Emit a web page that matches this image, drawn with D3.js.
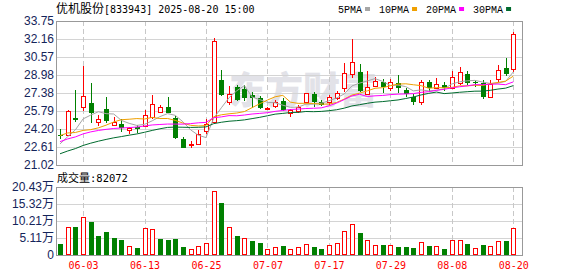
<!DOCTYPE html>
<html><head><meta charset="utf-8">
<script src="https://cdn.jsdelivr.net/npm/d3@7"></script>
<style>html,body{margin:0;padding:0;background:#fff;}svg{display:block;}</style>
</head><body>
<svg id="c" width="578" height="276"></svg>
<script>
// ---------------- data ----------------
const stockName = "优机股份";
const stockCode = "833943";
const stamp = "2025-08-20 15:00";
const dates = ["05-28","05-29","05-30","06-03","06-04","06-05","06-06","06-09","06-10","06-11","06-12","06-13",
"06-16","06-17","06-18","06-19","06-20","06-23","06-24","06-25","06-26","06-27","06-30","07-01","07-02","07-03","07-04","07-07",
"07-08","07-09","07-10","07-11","07-14","07-15","07-16","07-17","07-18","07-21","07-22","07-23","07-24","07-25","07-28","07-29",
"07-30","07-31","08-01","08-04","08-05","08-06","08-07","08-08","08-11","08-12","08-13","08-14","08-15","08-18","08-19","08-20"];
const opens = [23.66,23.65,25.16,26.13,26.53,24.86,25.98,24.59,24.64,24.15,24.42,24.48,25.24,25.71,26.18,25.16,23.33,22.82,22.86,24.00,
24.80,28.54,26.62,27.90,27.75,27.20,26.92,25.95,26.24,26.71,25.60,25.80,26.62,27.27,26.62,26.55,26.92,27.80,29.04,29.22,
27.27,28.04,28.40,27.80,28.30,27.66,27.07,26.57,28.33,27.86,28.10,27.80,28.25,29.04,28.40,28.30,27.07,28.60,29.57,29.48];
const highs = [24.18,25.85,27.66,29.80,28.30,25.45,27.01,25.24,25.05,24.40,24.54,25.89,27.21,26.33,27.01,25.36,23.48,23.18,24.12,25.05,
32.25,29.42,28.01,28.10,28.10,27.50,27.10,26.12,26.80,26.95,25.95,26.35,27.40,27.48,26.80,27.20,27.60,30.00,32.13,29.95,
29.36,28.80,28.60,28.60,28.98,27.80,27.30,28.50,28.54,28.74,28.40,29.36,29.66,29.30,28.54,28.54,28.54,29.86,30.51,32.75];
const lows = [23.30,23.60,24.86,25.83,24.77,24.48,24.71,24.48,23.90,23.80,23.88,24.36,25.07,25.60,25.60,23.33,22.50,22.50,22.80,23.75,
24.72,27.13,26.33,26.65,26.70,26.10,25.95,25.92,26.10,25.80,25.30,25.60,26.60,26.13,26.20,26.30,26.80,27.50,28.69,27.50,
27.20,27.90,27.35,27.60,27.42,27.00,26.30,26.30,27.50,27.74,27.60,27.74,28.10,28.10,27.90,26.86,27.07,28.39,28.92,29.27];
const closes = [23.62,25.80,25.01,27.13,25.60,25.10,24.95,24.86,24.28,24.32,24.19,25.42,26.42,26.13,25.65,23.44,22.56,22.86,23.74,24.63,
31.95,27.21,27.30,26.80,26.95,26.90,26.04,26.10,26.62,25.89,25.92,26.18,27.36,26.62,26.33,27.01,27.42,29.13,30.16,27.59,
27.95,28.45,27.89,28.33,27.80,27.27,26.57,28.33,27.86,28.16,27.80,28.78,29.27,28.30,28.35,27.07,28.16,29.42,29.04,32.57];
// volume in 万 (10k lots)
const volumes = [3.3,8.4,8.5,11.3,9.9,5.7,6.9,5.2,4.5,2.7,2.2,8.1,7.7,4.8,4.5,4.8,2.4,1.8,2.7,3.6,
19.1,15.5,8.4,5.7,5.0,4.3,3.7,1.7,2.4,2.8,1.7,2.4,3.3,2.4,1.8,3.0,3.6,7.2,9.2,6.6,
4.4,2.9,3.0,3.0,2.5,2.4,2.1,3.8,2.7,2.7,1.8,4.4,4.4,3.2,2.0,3.0,2.7,4.2,4.2,8.2072];
// closes of the 29 sessions before 05-28 (estimated from where the MA lines start)
const priorCloses = [18.4,18.7,18.8,19.5,19.8,20.3,20.6,20.9,20.7,20.9,
21.0,21.5,21.8,22.0,22.6,23.0,23.3,23.4,23.6,23.3,
23.5,24.6,25.3,24.9,23.5,22.6,22.0,22.3,23.9];
const priceTicks = [33.75,32.16,30.57,28.98,27.38,25.79,24.20,22.61,21.02];
const volTicks = [0,5.11,10.21,15.32,20.43];
const dateTicks = ["06-03","06-13","06-25","07-07","07-17","07-29","08-08","08-20"];
const maPeriods = [5,10,20,30];
const maNames = ["5PMA","10PMA","20PMA","30PMA"];

// ---------------- layout ----------------
const L = 56, R = 522, pT = 21, pB = 165, vT = 187, vB = 255;
const RED = "#ff0000", GREEN = "#008000";
const maColors = ["#a6a6a6", "#f0a000", "#ff00ff", "#006b2e"];
const labelColor = "#14245a";

const svg = d3.select("#c");
const n = closes.length;
const x = d3.scaleLinear().domain([0, n - 1]).range([60, 513.3]);
const yP = d3.scaleLinear().domain([d3.min(priceTicks), d3.max(priceTicks)]).range([pB, pT]);
const yV = d3.scaleLinear().domain([0, d3.max(volTicks)]).range([vB, vT]);
const px = v => Math.round(v) + 0.5;

// watermark
svg.append("text").attr("x", 229).attr("y", 104)
  .attr("font-family", "Noto Sans CJK SC").attr("font-weight", 900).attr("font-size", 37)
  .attr("fill", "#e2e2e8").text("东方财富");

// horizontal grid
function hgrid(ticks, scale) {
  svg.append("g").selectAll("line").data(ticks).join("line")
    .attr("x1", L).attr("x2", R)
    .attr("y1", d => px(scale(d))).attr("y2", d => px(scale(d)))
    .attr("stroke", "#d4d4d4").attr("stroke-width", 1);
}
hgrid(priceTicks, yP);
hgrid(volTicks, yV);

// vertical dashed grid
const tickIdx = dateTicks.map(d => dates.indexOf(d));
[[pT, pB], [vT, vB]].forEach(([a, b]) => {
  svg.append("g").selectAll("line").data(tickIdx).join("line")
    .attr("x1", d => px(x(d))).attr("x2", d => px(x(d)))
    .attr("y1", a).attr("y2", b)
    .attr("stroke", "#c8c8c8").attr("stroke-dasharray", "5,3");
});

// candles
const cg = svg.append("g");
for (let i = 0; i < n; i++) {
  const cx = Math.round(x(i));
  const up = closes[i] >= opens[i];
  const col = up ? RED : GREEN;
  const top = Math.round(yP(Math.max(opens[i], closes[i])));
  const bot = Math.round(yP(Math.min(opens[i], closes[i])));
  const yH = Math.round(yP(highs[i])), yL = Math.round(yP(lows[i]));
  if (up) {
    if (yH < top) cg.append("line").attr("x1", cx + 0.5).attr("x2", cx + 0.5).attr("y1", yH).attr("y2", top).attr("stroke", col);
    if (yL > bot) cg.append("line").attr("x1", cx + 0.5).attr("x2", cx + 0.5).attr("y1", bot).attr("y2", yL).attr("stroke", col);
    if (bot - top >= 1) {
      cg.append("rect").attr("x", cx - 2 + 0.5).attr("y", top + 0.5).attr("width", 4).attr("height", bot - top)
        .attr("fill", "#fff").attr("stroke", col);
    } else {
      cg.append("line").attr("x1", cx - 2).attr("x2", cx + 3).attr("y1", top + 0.5).attr("y2", top + 0.5).attr("stroke", col);
    }
  } else {
    cg.append("line").attr("x1", cx + 0.5).attr("x2", cx + 0.5).attr("y1", yH).attr("y2", yL).attr("stroke", col);
    cg.append("rect").attr("x", cx - 2).attr("y", top).attr("width", 5).attr("height", Math.max(1, bot - top))
      .attr("fill", col);
  }
}

// moving averages
const allCloses = priorCloses.concat(closes);
const off = priorCloses.length;
const maSeries = maPeriods.map(p => closes.map((c, i) => d3.mean(allCloses.slice(off + i - p + 1, off + i + 1))));
const line = d3.line().x((d, i) => x(i)).y(d => yP(d));
maSeries.forEach((s, k) => {
  svg.append("path").attr("d", line(s)).attr("fill", "none")
    .attr("stroke", maColors[k]).attr("stroke-width", 1);
});

// volume bars (colour by close vs previous close)
const vg = svg.append("g");
for (let i = 0; i < n; i++) {
  const cx = Math.round(x(i));
  const prev = i ? closes[i - 1] : priorCloses[priorCloses.length - 1];
  const up = closes[i] >= prev;
  const yt = Math.round(yV(volumes[i]));
  if (up) {
    vg.append("rect").attr("x", cx - 2 + 0.5).attr("y", yt + 0.5).attr("width", 4).attr("height", vB - yt - 1)
      .attr("fill", "#fff").attr("stroke", RED);
  } else {
    vg.append("rect").attr("x", cx - 2).attr("y", yt).attr("width", 5).attr("height", vB - yt).attr("fill", GREEN);
  }
}

// frames
[[pT, pB], [vT, vB]].forEach(([a, b]) => {
  svg.append("rect").attr("x", L + 0.5).attr("y", a + 0.5).attr("width", R - L).attr("height", b - a)
    .attr("fill", "none").attr("stroke", "#999");
});

// axes
function styleAxis(g) {
  g.select(".domain").remove();
  g.selectAll(".tick line").remove();
}
svg.append("g").attr("transform", `translate(${L},0)`)
  .call(d3.axisLeft(yP).tickValues(priceTicks).tickFormat(d3.format(".2f")).tickSize(0).tickPadding(2))
  .call(styleAxis)
  .call(g => g.selectAll("text").attr("font-family", "Liberation Sans, Arial").attr("font-size", 12).attr("fill", labelColor));
svg.append("g").attr("transform", `translate(${L},0)`)
  .call(d3.axisLeft(yV).tickValues(volTicks).tickFormat(d => d === 0 ? "0" : d3.format(".2f")(d) + "万").tickSize(0).tickPadding(2))
  .call(styleAxis)
  .call(g => g.selectAll("text").attr("font-family", "Liberation Sans, Noto Sans CJK SC").attr("font-size", 12).attr("fill", labelColor));
svg.append("g").attr("transform", `translate(0,${vB})`)
  .call(d3.axisBottom(x).tickValues(tickIdx).tickFormat(i => dates[i]).tickSize(0))
  .call(styleAxis)
  .call(g => g.selectAll("text").attr("y", 14).attr("dy", 0)
    .attr("font-family", "DejaVu Sans Mono").attr("font-size", 10).attr("fill", RED));

// title
const t = svg.append("text").attr("x", 56).attr("y", 13).attr("fill", "#000");
t.append("tspan").attr("font-family", "Noto Sans CJK SC").attr("font-size", 12).text(stockName);
t.append("tspan").attr("font-family", "DejaVu Sans Mono").attr("font-size", 10).text(`[${stockCode}] ${stamp}`);

// legend
let lx = 338;
maNames.forEach((nm, k) => {
  const tx = svg.append("text").attr("x", lx).attr("y", 12.5)
    .attr("font-family", "Liberation Mono").attr("font-size", 10).attr("fill", "#000").text(nm);
  const w = tx.node().getComputedTextLength();
  svg.append("rect").attr("x", lx + w + 3).attr("y", 7).attr("width", 5).attr("height", 4).attr("fill", maColors[k]);
  lx += w + 17;
});

// volume caption
const vt = svg.append("text").attr("x", 57).attr("y", 182).attr("fill", "#000");
vt.append("tspan").attr("font-family", "Noto Sans CJK SC").attr("font-size", 11).text("成交量");
vt.append("tspan").attr("font-family", "DejaVu Sans Mono").attr("font-size", 10.5)
  .text(":" + Math.round(volumes[n - 1] * 10000));
</script>
</body></html>
